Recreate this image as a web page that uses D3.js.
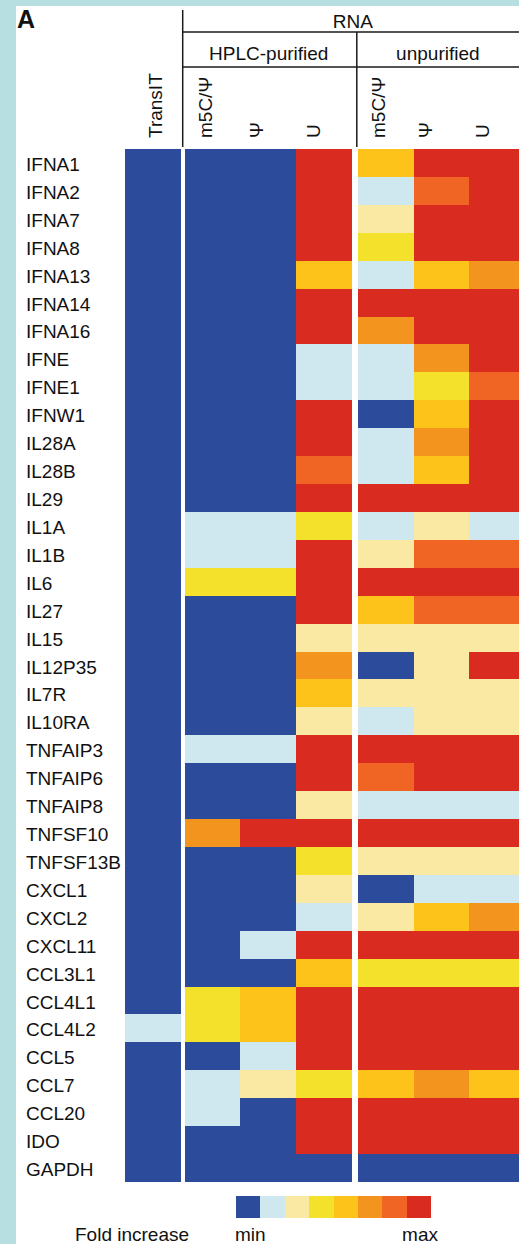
<!DOCTYPE html>
<html>
<head>
<meta charset="utf-8">
<script src="https://cdn.jsdelivr.net/npm/d3@7"></script>
<style>
  html, body { margin: 0; padding: 0; background: #b7dfe1; }
  svg { display: block; }
  text { font-family: "Liberation Sans", Arial, Helvetica, sans-serif; fill: #111; }
</style>
</head>
<body>
<div id="chart"></div>
<script>
// Genes, top to bottom
const genes = ['IFNA1', 'IFNA2', 'IFNA7', 'IFNA8', 'IFNA13', 'IFNA14', 'IFNA16', 'IFNE', 'IFNE1', 'IFNW1',
  'IL28A', 'IL28B', 'IL29', 'IL1A', 'IL1B', 'IL6', 'IL27', 'IL15', 'IL12P35', 'IL7R', 'IL10RA',
  'TNFAIP3', 'TNFAIP6', 'TNFAIP8', 'TNFSF10', 'TNFSF13B', 'CXCL1', 'CXCL2', 'CXCL11', 'CCL3L1',
  'CCL4L1', 'CCL4L2', 'CCL5', 'CCL7', 'CCL20', 'IDO', 'GAPDH'];

// Column labels and the group each column belongs to (0 = TransIT, 1 = HPLC-purified, 2 = unpurified)
const columnLabels = ['TransIT', 'm5C/Ψ', 'Ψ', 'U', 'm5C/Ψ', 'Ψ', 'U'];
const columnGroup = [0, 1, 1, 1, 2, 2, 2];
const groupLabels = ['HPLC-purified', 'unpurified'];

// Fold increase level per gene (0 = min ... 7 = max), one array per column
const transIT = [0, 0, 0, 0, 0, 0, 0, 0, 0, 0, 0, 0, 0, 0, 0, 0, 0, 0, 0, 0, 0,
  0, 0, 0, 0, 0, 0, 0, 0, 0, 0, 1, 0, 0, 0, 0, 0];
const hplcM5C = [0, 0, 0, 0, 0, 0, 0, 0, 0, 0, 0, 0, 0, 1, 1, 3, 0, 0, 0, 0, 0,
  1, 0, 0, 5, 0, 0, 0, 0, 0, 3, 3, 0, 1, 1, 0, 0];
const hplcPsi = [0, 0, 0, 0, 0, 0, 0, 0, 0, 0, 0, 0, 0, 1, 1, 3, 0, 0, 0, 0, 0,
  1, 0, 0, 7, 0, 0, 0, 1, 0, 4, 4, 1, 2, 0, 0, 0];
const hplcU = [7, 7, 7, 7, 4, 7, 7, 1, 1, 7, 7, 6, 7, 3, 7, 7, 7, 2, 5, 4, 2,
  7, 7, 2, 7, 3, 2, 1, 7, 4, 7, 7, 7, 3, 7, 7, 0];
const unpM5C = [4, 1, 2, 3, 1, 7, 5, 1, 1, 0, 1, 1, 7, 1, 2, 7, 4, 2, 0, 2, 1,
  7, 6, 1, 7, 2, 0, 2, 7, 3, 7, 7, 7, 4, 7, 7, 0];
const unpPsi = [7, 6, 7, 7, 4, 7, 7, 5, 3, 4, 5, 4, 7, 2, 6, 7, 6, 2, 2, 2, 2,
  7, 7, 1, 7, 2, 1, 4, 7, 3, 7, 7, 7, 5, 7, 7, 0];
const unpU = [7, 7, 7, 7, 5, 7, 7, 7, 6, 7, 7, 7, 7, 1, 6, 7, 6, 2, 7, 2, 2,
  7, 7, 1, 7, 2, 1, 5, 7, 3, 7, 7, 7, 4, 7, 7, 0];

const columnValues = [transIT, hplcM5C, hplcPsi, hplcU, unpM5C, unpPsi, unpU];

// Colour steps of the legend, min to max
const levelColors = ['#2c4b9b', '#cfe7ef', '#f9e9a2', '#f4e12c', '#fdc31b', '#f3941f', '#f06523', '#da2b21'];

const width = 519;
const height = 1244;

const svg = d3.select('#chart')
  .append('svg')
  .attr('width', width)
  .attr('height', height);

// white panel
svg.append('rect')
  .attr('x', 16)
  .attr('y', 6)
  .attr('width', width - 16)
  .attr('height', height - 6)
  .attr('fill', '#fff');

// scales
const colStep = 55.7;
const groupOffset = [0, 4, 10];
const x = d3.scaleLinear().domain([0, columnLabels.length]).range([125, 125 + columnLabels.length * colStep]);
const colX = i => x(i) + groupOffset[columnGroup[i]];
const colW = x(1) - x(0);

const y = d3.scaleBand().domain(genes).range([149, 1182]);

const color = d3.scaleOrdinal().domain(d3.range(levelColors.length)).range(levelColors);

// cells
const cells = [];
columnValues.forEach((values, c) => {
  values.forEach((v, r) => cells.push({col: c, gene: genes[r], level: v}));
});

svg.append('g')
  .selectAll('rect')
  .data(cells)
  .enter()
  .append('rect')
  .attr('x', d => colX(d.col))
  .attr('y', d => y(d.gene))
  .attr('width', colW)
  .attr('height', y.bandwidth())
  .attr('fill', d => color(d.level))
  .attr('shape-rendering', 'crispEdges');

// gene labels
svg.append('g')
  .selectAll('text')
  .data(genes)
  .enter()
  .append('text')
  .attr('x', 26)
  .attr('y', d => y(d) + y.bandwidth() / 2 + 8)
  .style('font-size', '19px')
  .text(d => d);

// rotated column labels
const labelShift = [9, -1, -5, -4, -1, -9, -8];
svg.append('g')
  .selectAll('text')
  .data(columnLabels)
  .enter()
  .append('text')
  .attr('transform', (d, i) => `translate(${colX(i) + colW / 2 + labelShift[i]}, 138) rotate(-90)`)
  .style('font-size', '19px')
  .text(d => d);

// header brackets
const left = (x(1) + colX(1)) / 2;
const split = colX(4) - 1;
const header = svg.append('g')
  .attr('stroke', '#1a1a1a')
  .attr('stroke-width', 1.5);

header.append('line').attr('x1', left).attr('x2', left).attr('y1', 10).attr('y2', 147);
header.append('line').attr('x1', left).attr('x2', width).attr('y1', 32).attr('y2', 32);
header.append('line').attr('x1', left).attr('x2', width).attr('y1', 67).attr('y2', 67);
header.append('line').attr('x1', split).attr('x2', split).attr('y1', 32).attr('y2', 147);

const rightEdge = colX(6) + colW;
svg.append('text')
  .attr('x', (left + rightEdge) / 2 - 1)
  .attr('y', 28)
  .attr('text-anchor', 'middle')
  .style('font-size', '19px')
  .text('RNA');

svg.append('g')
  .selectAll('text')
  .data(groupLabels)
  .enter()
  .append('text')
  .attr('x', (d, i) => i === 0 ? (left + split) / 2 - 1 : (split + rightEdge) / 2 - 3)
  .attr('y', 59.5)
  .attr('text-anchor', 'middle')
  .style('font-size', '19px')
  .text(d => d);

// panel letter
svg.append('text')
  .attr('x', 17)
  .attr('y', 28)
  .style('font-size', '25px')
  .style('font-weight', 'bold')
  .text('A');

// legend
const legendX = d3.scaleBand().domain(d3.range(levelColors.length)).range([236, 431]);

svg.append('g')
  .selectAll('rect')
  .data(levelColors)
  .enter()
  .append('rect')
  .attr('x', (d, i) => legendX(i))
  .attr('y', 1196)
  .attr('width', legendX.bandwidth())
  .attr('height', 22)
  .attr('fill', d => d)
  .attr('shape-rendering', 'crispEdges');

svg.append('text').attr('x', 75).attr('y', 1241).style('font-size', '19px').text('Fold increase');
svg.append('text').attr('x', 235).attr('y', 1241).style('font-size', '19px').text('min');
svg.append('text').attr('x', 438).attr('y', 1241).attr('text-anchor', 'end').style('font-size', '19px').text('max');
</script>
</body>
</html>
